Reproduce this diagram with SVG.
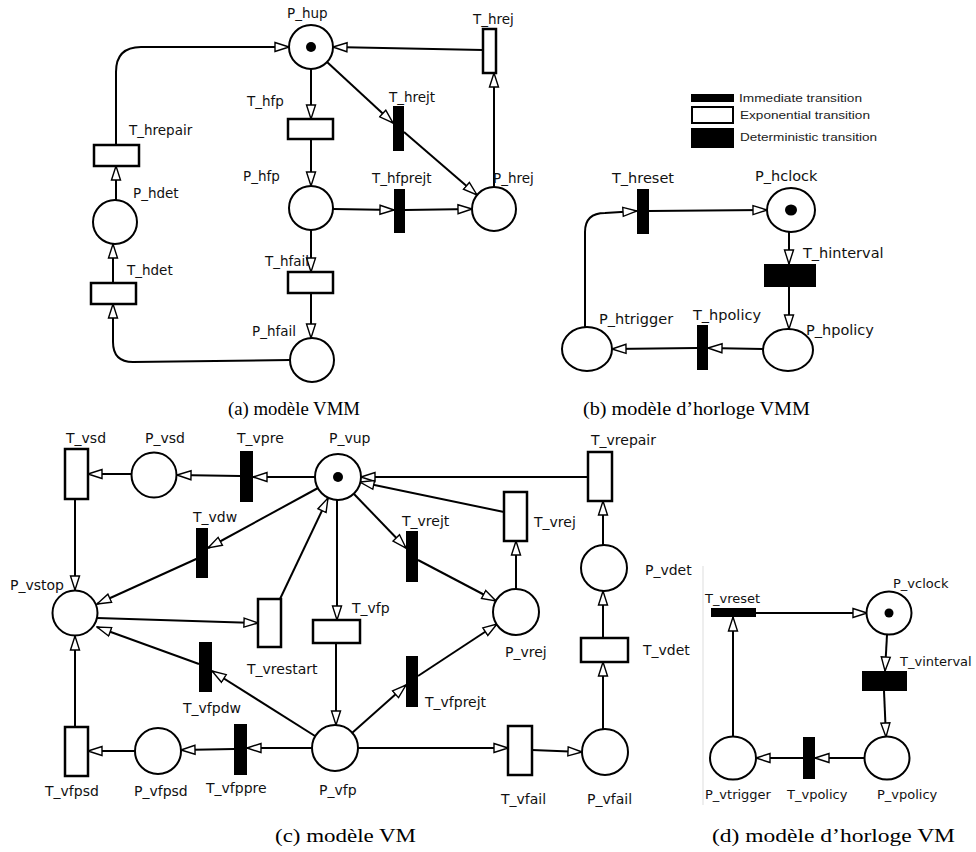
<svg xmlns="http://www.w3.org/2000/svg" width="976" height="852" viewBox="0 0 976 852">
<style>
.pl{fill:#fff;stroke:#000;stroke-width:2}
.tok{fill:#000}
.te{fill:#fff;stroke:#000;stroke-width:2.5}
.ti{fill:#000}
.arc{fill:none;stroke:#000;stroke-width:2;marker-end:url(#arr)}
.la{font-family:"DejaVu Sans",sans-serif;font-size:13.5px;fill:#111}
.lb{font-family:"DejaVu Sans",sans-serif;font-size:14.5px;fill:#111}
.lc{font-family:"DejaVu Sans",sans-serif;font-size:14px;fill:#111}
.ld{font-family:"DejaVu Sans",sans-serif;font-size:13px;fill:#111}
.lg{font-family:"Liberation Sans",Arial,sans-serif;font-size:11.5px;fill:#222}
.cap{font-family:"Liberation Serif","Times New Roman",serif;font-size:19.5px;fill:#000}
</style>
<defs>
<marker id="arr" viewBox="0 0 16 12" refX="15" refY="6" markerWidth="16" markerHeight="12" markerUnits="userSpaceOnUse" orient="auto">
<path d="M1,1.5 L15,6 L1,10.5 z" fill="#fff" stroke="#000" stroke-width="1.4"/>
</marker>
</defs>
<rect width="976" height="852" fill="#fff"/>

<g id="connectors">
<!-- (a) -->
<path class="arc" d="M483,50 L333,47"/>
<path class="arc" d="M116,145 V72 Q116,47 141,47 L289,47"/>
<path class="arc" d="M311,69 V119"/>
<path class="arc" d="M311,139 V186"/>
<path class="arc" d="M327,62 L393,123"/>
<path class="arc" d="M404,132 L477,195"/>
<path class="arc" d="M333,209 L394,210"/>
<path class="arc" d="M405,210 L472,209"/>
<path class="arc" d="M494,187 V73"/>
<path class="arc" d="M311,230 V272"/>
<path class="arc" d="M311,293 V338"/>
<path class="arc" d="M290,360 L133,362 Q113,362 113,342 L113,304"/>
<path class="arc" d="M113,283 V244"/>
<path class="arc" d="M116,200 V166"/>
<!-- (b) -->
<path class="arc" d="M649,211 L767,210"/>
<path class="arc" d="M789,232 V264"/>
<path class="arc" d="M789,287 V329"/>
<path class="arc" d="M763,349 L708,348"/>
<path class="arc" d="M697,348 L612,349"/>
<path class="arc" d="M585,327 V232 Q585,213 605,213 L637,211"/>
<!-- (c) -->
<path class="arc" d="M315,477 L253,477"/>
<path class="arc" d="M240,476 L177,475"/>
<path class="arc" d="M132,474 L88,474"/>
<path class="arc" d="M588,477 L361,477"/>
<path class="arc" d="M504,512 L360,482"/>
<path class="arc" d="M354,494 L406,548"/>
<path class="arc" d="M418,560 L496,601"/>
<path class="arc" d="M516,589 V541"/>
<path class="arc" d="M603,545 V501"/>
<path class="arc" d="M603,638 V591"/>
<path class="arc" d="M603,729 V662"/>
<path class="arc" d="M532,750 L582,752"/>
<path class="arc" d="M358,748 L508,748"/>
<path class="arc" d="M337,500 V620"/>
<path class="arc" d="M336,643 V725"/>
<path class="arc" d="M280,599 L328,498"/>
<path class="arc" d="M97,618 L258,623"/>
<path class="arc" d="M75,499 V590"/>
<path class="arc" d="M318,488 L208,548"/>
<path class="arc" d="M205,555 L97,604"/>
<path class="arc" d="M315,736 L212,671"/>
<path class="arc" d="M199,664 L97,627"/>
<path class="arc" d="M352,733 L406,685"/>
<path class="arc" d="M418,676 L497,624"/>
<path class="arc" d="M312,748 L247,748"/>
<path class="arc" d="M234,749 L181,750"/>
<path class="arc" d="M135,751 L88,751"/>
<path class="arc" d="M75,727 V636"/>
<!-- (d) -->
<path class="arc" d="M756,613 L867,613"/>
<path class="arc" d="M887,635 L885,671"/>
<path class="arc" d="M884,691 L886,737"/>
<path class="arc" d="M865,758 L815,758"/>
<path class="arc" d="M803,758 L756,758"/>
<path class="arc" d="M733,737 V617"/>
</g>

<!-- (a) modèle VMM -->
<g id="P_hup"><circle class="pl" cx="311" cy="47" r="22"/><circle class="tok" cx="311" cy="47" r="5"/><text class="la" x="287" y="18">P_hup</text></g>
<g id="T_hrej"><rect class="te" x="483" y="29" width="13" height="44"/><text class="la" x="473" y="24">T_hrej</text></g>
<g id="T_hrepair"><rect class="te" x="94" y="145" width="45" height="21"/><text class="la" x="129" y="135">T_hrepair</text></g>
<g id="T_hfp"><rect class="te" x="288" y="119" width="45" height="20"/><text class="la" x="247" y="106">T_hfp</text></g>
<g id="T_hrejt"><rect class="ti" x="393" y="106" width="11" height="45"/><text class="la" x="389" y="102">T_hrejt</text></g>
<g id="P_hfp"><circle class="pl" cx="311" cy="208" r="22"/><text class="la" x="243" y="181">P_hfp</text></g>
<g id="T_hfprejt"><rect class="ti" x="394" y="189" width="11" height="44"/><text class="la" x="372" y="183">T_hfprejt</text></g>
<g id="P_hrej"><circle class="pl" cx="494" cy="209" r="22"/><text class="la" x="493" y="183">P_hrej</text></g>
<g id="P_hdet"><circle class="pl" cx="115" cy="222" r="22"/><text class="la" x="133" y="198">P_hdet</text></g>
<g id="T_hdet"><rect class="te" x="91" y="283" width="45" height="21"/><text class="la" x="127" y="275">T_hdet</text></g>
<g id="T_hfail"><rect class="te" x="288" y="272" width="45" height="21"/><text class="la" x="265" y="266">T_hfail</text></g>
<g id="P_hfail"><circle class="pl" cx="312" cy="360" r="22"/><text class="la" x="252" y="336">P_hfail</text></g>

<!-- (b) legend -->
<g id="legend">
<rect x="691" y="94" width="43" height="8" fill="#000"/>
<text class="lg" x="739" y="102" textLength="123" lengthAdjust="spacingAndGlyphs">Immediate transition</text>
<rect x="692" y="107" width="41" height="16" fill="#fff" stroke="#000" stroke-width="2"/>
<text class="lg" x="740" y="119" textLength="130" lengthAdjust="spacingAndGlyphs">Exponential transition</text>
<rect x="691" y="128" width="43" height="20" fill="#000"/>
<text class="lg" x="740" y="141" textLength="137" lengthAdjust="spacingAndGlyphs">Deterministic transition</text>
</g>

<!-- (b) modèle d'horloge VMM -->
<g id="T_hreset"><rect class="ti" x="637" y="189" width="12" height="45"/><text class="lb" x="612" y="183">T_hreset</text></g>
<g id="P_hclock"><ellipse class="pl" cx="791" cy="210" rx="24" ry="22"/><ellipse class="tok" cx="791" cy="210" rx="6" ry="5.5"/><text class="lb" x="755" y="181">P_hclock</text></g>
<g id="T_hinterval"><rect class="ti" x="764" y="264" width="52" height="23"/><text class="lb" x="803" y="258">T_hinterval</text></g>
<g id="P_hpolicy"><ellipse class="pl" cx="788" cy="350" rx="25" ry="21"/><text class="lb" x="806" y="335">P_hpolicy</text></g>
<g id="T_hpolicy"><rect class="ti" x="697" y="325" width="11" height="45"/><text class="lb" x="693" y="320">T_hpolicy</text></g>
<g id="P_htrigger"><ellipse class="pl" cx="587" cy="349" rx="25" ry="22"/><text class="lb" x="599" y="324">P_htrigger</text></g>

<!-- (c) modèle VM -->
<g id="P_vup"><circle class="pl" cx="338" cy="477" r="23"/><circle class="tok" cx="338" cy="477" r="5"/><text class="lc" x="329" y="443">P_vup</text></g>
<g id="T_vpre"><rect class="ti" x="240" y="451" width="13" height="51"/><text class="lc" x="237" y="443">T_vpre</text></g>
<g id="P_vsd"><circle class="pl" cx="154" cy="475" r="22.5"/><text class="lc" x="145" y="443">P_vsd</text></g>
<g id="T_vsd"><rect class="te" x="65" y="449" width="23" height="50"/><text class="lc" x="66" y="443">T_vsd</text></g>
<g id="T_vrepair"><rect class="te" x="588" y="452" width="24" height="49"/><text class="lc" x="591" y="445">T_vrepair</text></g>
<g id="T_vrej"><rect class="te" x="504" y="492" width="23" height="49"/><text class="lc" x="534" y="527">T_vrej</text></g>
<g id="T_vrejt"><rect class="ti" x="406" y="531" width="12" height="51"/><text class="lc" x="402" y="526">T_vrejt</text></g>
<g id="T_vdw"><rect class="ti" x="196" y="528" width="12" height="50"/><text class="lc" x="193" y="522">T_vdw</text></g>
<g id="P_vstop"><circle class="pl" cx="75" cy="613" r="22.5"/><text class="lc" x="64" y="590" text-anchor="end">P_vstop</text></g>
<g id="T_vrestart"><rect class="te" x="258" y="599" width="23" height="48"/><text class="lc" x="247" y="674">T_vrestart</text></g>
<g id="T_vfp"><rect class="te" x="313" y="620" width="47" height="23"/><text class="lc" x="352" y="613">T_vfp</text></g>
<g id="P_vrej"><circle class="pl" cx="516" cy="612" r="23"/><text class="lc" x="505" y="657">P_vrej</text></g>
<g id="P_vdet"><circle class="pl" cx="604" cy="568" r="23"/><text class="lc" x="645" y="575">P_vdet</text></g>
<g id="T_vdet"><rect class="te" x="581" y="638" width="47" height="24"/><text class="lc" x="643" y="655">T_vdet</text></g>
<g id="T_vfpdw"><rect class="ti" x="199" y="642" width="13" height="50"/><text class="lc" x="183" y="713">T_vfpdw</text></g>
<g id="T_vfprejt"><rect class="ti" x="406" y="656" width="12" height="51"/><text class="lc" x="425" y="707">T_vfprejt</text></g>
<g id="P_vfp"><circle class="pl" cx="335" cy="748" r="23"/><text class="lc" x="319" y="795">P_vfp</text></g>
<g id="T_vfppre"><rect class="ti" x="234" y="724" width="13" height="51"/><text class="lc" x="206" y="793">T_vfppre</text></g>
<g id="P_vfpsd"><circle class="pl" cx="158" cy="751" r="23"/><text class="lc" x="134" y="796">P_vfpsd</text></g>
<g id="T_vfpsd"><rect class="te" x="65" y="727" width="23" height="49"/><text class="lc" x="45" y="796">T_vfpsd</text></g>
<g id="T_vfail"><rect class="te" x="508" y="726" width="24" height="49"/><text class="lc" x="501" y="804">T_vfail</text></g>
<g id="P_vfail"><circle class="pl" cx="605" cy="752" r="23"/><text class="lc" x="587" y="804">P_vfail</text></g>

<!-- (d) modèle d'horloge VM -->
<line x1="703" y1="566" x2="703" y2="805" stroke="#ddd" stroke-width="1"/>
<g id="T_vreset"><rect class="ti" x="711" y="608" width="45" height="9"/><text class="ld" x="705" y="603">T_vreset</text></g>
<g id="P_vclock"><ellipse class="pl" cx="889" cy="613" rx="22.5" ry="21.5"/><circle class="tok" cx="889" cy="613" r="4.5"/><text class="ld" x="893" y="588">P_vclock</text></g>
<g id="T_vinterval"><rect class="ti" x="862" y="671" width="45" height="20"/><text class="ld" x="900" y="666">T_vinterval</text></g>
<g id="P_vpolicy"><ellipse class="pl" cx="887" cy="758" rx="22.5" ry="21.5"/><text class="ld" x="877" y="799">P_vpolicy</text></g>
<g id="T_vpolicy"><rect class="ti" x="803" y="737" width="12" height="42"/><text class="ld" x="787" y="799">T_vpolicy</text></g>
<g id="P_vtrigger"><ellipse class="pl" cx="733" cy="758" rx="23" ry="21.5"/><text class="ld" x="705" y="799">P_vtrigger</text></g>

<!-- captions -->
<g id="captions">
<text class="cap" x="228" y="415" textLength="132" lengthAdjust="spacingAndGlyphs">(a)  modèle VMM</text>
<text class="cap" x="583" y="415" textLength="227" lengthAdjust="spacingAndGlyphs">(b)  modèle d’horloge VMM</text>
<text class="cap" x="275" y="842" textLength="141" lengthAdjust="spacingAndGlyphs">(c) modèle VM</text>
<text class="cap" x="712" y="842" textLength="243" lengthAdjust="spacingAndGlyphs">(d)  modèle d’horloge VM</text>
</g>
</svg>
